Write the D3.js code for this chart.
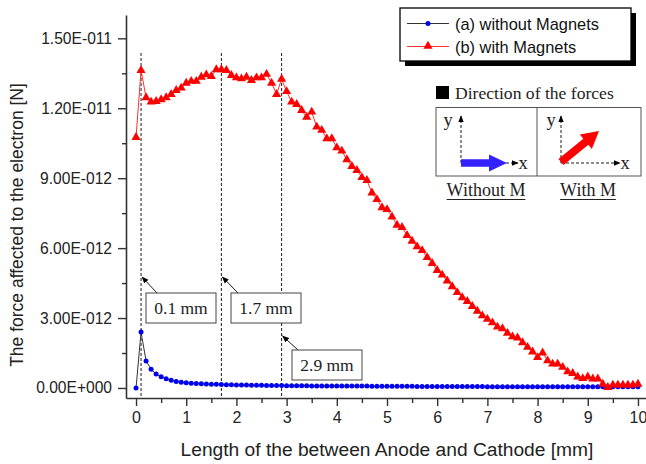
<!DOCTYPE html>
<html lang="en">
<head>
<meta charset="UTF-8">
<title>Force on the electron</title>
<style>
  body { margin: 0; background: #fff; }
  svg { display: block; }
  .tick text { font-family: "Liberation Sans", Arial, sans-serif; fill: #222; }
  .serif { font-family: "Liberation Serif", "Times New Roman", serif; fill: #222; }
</style>
</head>
<body>
<svg width="646" height="464"></svg>
<script src="https://cdn.jsdelivr.net/npm/d3@7/dist/d3.min.js"></script>
<script>

// x positions in mm, force values in units of 1e-12 N
var xValues = d3.range(0, 101).map(function(i) { return +(i / 10).toFixed(1); });

var withMagnets = [
  10.75, 13.63, 12.46, 12.27, 12.30, 12.37, 12.46, 12.60, 12.77, 12.87,
  13.08, 13.16, 13.16, 13.34, 13.44, 13.37, 13.66, 13.66, 13.63, 13.41,
  13.31, 13.27, 13.34, 13.20, 13.31, 13.31, 13.46, 13.08, 12.60, 13.25,
  12.72, 12.27, 12.17, 11.91, 11.62, 11.84, 11.20, 11.06, 10.70, 10.70,
  10.31, 10.17, 9.80, 9.51, 9.34, 9.03, 8.91, 8.37, 8.09, 7.74,
  7.66, 7.34, 6.99, 6.89, 6.55, 6.30, 6.06, 5.90, 5.60, 5.35,
  5.05, 4.85, 4.60, 4.35, 4.10, 3.88, 3.72, 3.50, 3.30, 3.10,
  2.95, 2.80, 2.62, 2.55, 2.35, 2.20, 2.15, 1.95, 1.75, 1.55,
  1.31, 1.51, 1.17, 1.03, 1.03, 0.89, 0.70, 0.63, 0.48, 0.41,
  0.48, 0.39, 0.39, 0.17, 0.03, 0.13, 0.13, 0.13, 0.13, 0.13,
  0.17
];

var withoutMagnets = [
  0.00, 2.40, 1.16, 0.80, 0.60, 0.48, 0.40, 0.33, 0.28, 0.25,
  0.22, 0.20, 0.19, 0.18, 0.17, 0.16, 0.16, 0.15, 0.14, 0.14,
  0.13, 0.13, 0.13, 0.12, 0.12, 0.12, 0.11, 0.11, 0.11, 0.11,
  0.10, 0.10, 0.10, 0.10, 0.10, 0.09, 0.09, 0.09, 0.09, 0.09,
  0.08, 0.08, 0.08, 0.08, 0.08, 0.08, 0.08, 0.07, 0.07, 0.07,
  0.07, 0.07, 0.07, 0.07, 0.07, 0.07, 0.06, 0.06, 0.06, 0.06,
  0.06, 0.06, 0.06, 0.06, 0.06, 0.06, 0.06, 0.06, 0.06, 0.06,
  0.05, 0.05, 0.05, 0.05, 0.05, 0.05, 0.05, 0.05, 0.05, 0.05,
  0.05, 0.05, 0.05, 0.05, 0.05, 0.05, 0.05, 0.05, 0.05, 0.05,
  0.05, 0.05, 0.05, 0.05, 0.05, 0.05, 0.05, 0.05, 0.05, 0.05,
  0.05
];

var yTicks = [0, 3, 6, 9, 12, 15];
var yTickLabels = ["0.00E+000", "3.00E-012", "6.00E-012", "9.00E-012", "1.20E-011", "1.50E-011"];
var xTicks = [0, 1, 2, 3, 4, 5, 6, 7, 8, 9, 10];

var markers = [0.1, 1.7, 2.9];
var markerLabels = ["0.1 mm", "1.7 mm", "2.9 mm"];

var seriesNames = ["(a) without Magnets", "(b) with Magnets"];

var svg = d3.select("svg");

var x = d3.scaleLinear().domain([-0.2, 10.2]).range([126, 648]);
var y = d3.scaleLinear().domain([-0.43, 16]).range([398, 15]);

var defs = svg.append("defs");
defs.append("marker")
    .attr("id", "head")
    .attr("viewBox", "0 0 10 10")
    .attr("refX", 9).attr("refY", 5)
    .attr("markerWidth", 7).attr("markerHeight", 7)
    .attr("markerUnits", "userSpaceOnUse")
    .attr("orient", "auto")
  .append("path")
    .attr("d", "M0,1 L10,5 L0,9 Z")
    .attr("fill", "#000");

// axes
var xAxis = svg.append("g")
    .attr("transform", "translate(0,398)")
    .call(d3.axisBottom(x).tickValues(xTicks).tickSize(8).tickSizeOuter(0).tickPadding(6));
svg.append("g")
    .attr("transform", "translate(0,398)")
    .call(d3.axisBottom(x).tickValues(d3.range(0.5, 10, 1)).tickSize(5).tickSizeOuter(0).tickFormat(""))
    .select(".domain").remove();

var yAxis = svg.append("g")
    .attr("transform", "translate(126,0)")
    .call(d3.axisLeft(y).tickValues(yTicks).tickSize(8).tickSizeOuter(0).tickPadding(6)
        .tickFormat(function(d, i) { return yTickLabels[i]; }));
svg.append("g")
    .attr("transform", "translate(126,0)")
    .call(d3.axisLeft(y).tickValues(d3.range(1.5, 16, 3)).tickSize(4).tickSizeOuter(0).tickFormat(""))
    .select(".domain").remove();

svg.selectAll(".domain").attr("stroke", "#333").attr("stroke-width", 1.6);
svg.selectAll(".tick line").attr("stroke", "#333").attr("stroke-width", 1.4);
xAxis.selectAll(".tick text").attr("font-size", 16);
yAxis.selectAll(".tick text").attr("font-size", 15.6);

svg.append("text")
    .attr("transform", "translate(23,225) rotate(-90)")
    .attr("text-anchor", "middle")
    .attr("font-family", "Liberation Sans, Arial, sans-serif")
    .attr("font-size", 17.5)
    .attr("fill", "#222")
    .text("The force affected to the electron [N]");

svg.append("text")
    .attr("x", 387).attr("y", 456)
    .attr("text-anchor", "middle")
    .attr("font-family", "Liberation Sans, Arial, sans-serif")
    .attr("font-size", 19.2)
    .attr("fill", "#222")
    .text("Length of the between Anode and Cathode [mm]");

// dashed marker lines
svg.selectAll(".vline")
    .data(markers)
    .enter().append("line")
    .attr("x1", function(d) { return x(d); })
    .attr("x2", function(d) { return x(d); })
    .attr("y1", 53).attr("y2", 398)
    .attr("stroke", "#000")
    .attr("stroke-width", 0.9)
    .attr("stroke-dasharray", "3,2");

// series a
var blue = xValues.map(function(d, i) { return [d, withoutMagnets[i]]; });
var red = xValues.map(function(d, i) { return [d, withMagnets[i]]; });
var line = d3.line().x(function(d) { return x(d[0]); }).y(function(d) { return y(d[1]); });

svg.append("path")
    .datum(blue)
    .attr("d", line)
    .attr("fill", "none")
    .attr("stroke", "#333")
    .attr("stroke-width", 1);
svg.selectAll(".dot")
    .data(blue)
    .enter().append("circle")
    .attr("cx", function(d) { return x(d[0]); })
    .attr("cy", function(d) { return y(d[1]); })
    .attr("r", 2.5)
    .attr("fill", "#0000ee");

// series b
svg.append("path")
    .datum(red)
    .attr("d", line)
    .attr("fill", "none")
    .attr("stroke", "#ff3030")
    .attr("stroke-width", 1);
var tri = d3.symbol().type(d3.symbolTriangle).size(36);
svg.selectAll(".tri")
    .data(red)
    .enter().append("path")
    .attr("d", tri)
    .attr("transform", function(d) { return "translate(" + x(d[0]) + "," + y(d[1]) + ")"; })
    .attr("fill", "#ff0000");

// annotation boxes
var boxes = [
  {x: 146, y: 293, w: 70, h: 30, ax: 157, ay: 293, tx: x(markers[0]), ty: 277},
  {x: 231, y: 293, w: 70, h: 30, ax: 238, ay: 293, tx: x(markers[1]), ty: 277},
  {x: 292, y: 350, w: 70, h: 30, ax: 298, ay: 350, tx: x(markers[2]), ty: 336}
];
boxes.forEach(function(b, i) {
  svg.append("line")
      .attr("x1", b.ax).attr("y1", b.ay)
      .attr("x2", b.tx + 1).attr("y2", b.ty)
      .attr("stroke", "#000").attr("stroke-width", 0.9)
      .attr("marker-end", "url(#head)");
  svg.append("rect")
      .attr("x", b.x).attr("y", b.y).attr("width", b.w).attr("height", b.h)
      .attr("fill", "#fff").attr("stroke", "#444").attr("stroke-width", 1);
  svg.append("text")
      .attr("class", "serif")
      .attr("x", b.x + b.w / 2).attr("y", b.y + 21)
      .attr("text-anchor", "middle")
      .attr("font-size", 17.5)
      .text(markerLabels[i]);
});

// legend
var lg = svg.append("g");
lg.append("rect").attr("x", 405).attr("y", 13).attr("width", 231).attr("height", 53).attr("fill", "#000");
lg.append("rect").attr("x", 400).attr("y", 8).attr("width", 231).attr("height", 53)
    .attr("fill", "#fff").attr("stroke", "#000").attr("stroke-width", 1.3);
lg.append("line").attr("x1", 407).attr("x2", 449).attr("y1", 23.5).attr("y2", 23.5)
    .attr("stroke", "#333").attr("stroke-width", 1);
lg.append("circle").attr("cx", 428).attr("cy", 23.5).attr("r", 2.5).attr("fill", "#0000ee");
lg.append("line").attr("x1", 407).attr("x2", 449).attr("y1", 46.5).attr("y2", 46.5)
    .attr("stroke", "#ff3030").attr("stroke-width", 1);
lg.append("path").attr("d", tri).attr("transform", "translate(428,46)").attr("fill", "#ff0000");
lg.selectAll(".lt")
    .data(seriesNames)
    .enter().append("text")
    .attr("x", 455)
    .attr("y", function(d, i) { return 29.5 + i * 23; })
    .attr("font-family", "Liberation Sans, Arial, sans-serif")
    .attr("font-size", 16.4)
    .attr("fill", "#111")
    .text(function(d) { return d; });

// inset: direction of the forces
var inset = svg.append("g");
inset.append("rect").attr("x", 436).attr("y", 86).attr("width", 13).attr("height", 13).attr("fill", "#000");
inset.append("text").attr("class", "serif").attr("x", 455).attr("y", 99).attr("font-size", 17.6)
    .text("Direction of the forces");
inset.append("rect").attr("x", 436).attr("y", 107.5).attr("width", 205).attr("height", 68.5)
    .attr("fill", "#fff").attr("stroke", "#555").attr("stroke-width", 1);
inset.append("line").attr("x1", 537).attr("x2", 537).attr("y1", 107.5).attr("y2", 176)
    .attr("stroke", "#555").attr("stroke-width", 1);

function dashedArrow(x1, y1, x2, y2) {
  inset.append("line")
      .attr("x1", x1).attr("y1", y1).attr("x2", x2).attr("y2", y2)
      .attr("stroke", "#000").attr("stroke-width", 0.9)
      .attr("stroke-dasharray", "3,2")
      .attr("marker-end", "url(#head)");
}

// thick block arrow from (x1,y1) to tip (x2,y2)
function blockArrow(x1, y1, x2, y2, shaft, head, headLen, color) {
  var dx = x2 - x1, dy = y2 - y1, len = Math.sqrt(dx * dx + dy * dy);
  var ux = dx / len, uy = dy / len, px = -uy, py = ux;
  var bx = x2 - ux * headLen, by = y2 - uy * headLen;
  var pts = [
    [x1 + px * shaft, y1 + py * shaft],
    [bx + px * shaft, by + py * shaft],
    [bx + px * head, by + py * head],
    [x2, y2],
    [bx - px * head, by - py * head],
    [bx - px * shaft, by - py * shaft],
    [x1 - px * shaft, y1 - py * shaft]
  ];
  inset.append("path").attr("d", "M" + pts.join("L") + "Z").attr("fill", color);
}

// without M
dashedArrow(461, 163, 461, 116);
dashedArrow(461, 163, 518, 163);
blockArrow(461, 163, 507, 163, 3.7, 8.5, 18, "#3322ff");
// with M
dashedArrow(561, 163, 561, 116);
dashedArrow(561, 163, 620, 163);
blockArrow(561, 162, 599, 131, 4, 9.5, 17, "#ff0000");

[["y", 448, 126], ["x", 523, 169], ["y", 551, 126], ["x", 625, 169]].forEach(function(t) {
  inset.append("text").attr("class", "serif")
      .attr("x", t[1]).attr("y", t[2])
      .attr("text-anchor", "middle")
      .attr("font-size", 18.5)
      .text(t[0]);
});

[["Without M", 486], ["With M", 588]].forEach(function(t) {
  var tx = inset.append("text").attr("class", "serif")
      .attr("x", t[1]).attr("y", 196)
      .attr("text-anchor", "middle")
      .attr("font-size", 18)
      .text(t[0]);
  var w = tx.node().getComputedTextLength();
  inset.append("line")
      .attr("x1", t[1] - w / 2).attr("x2", t[1] + w / 2)
      .attr("y1", 199.5).attr("y2", 199.5)
      .attr("stroke", "#222").attr("stroke-width", 1);
});

</script>
</body>
</html>
